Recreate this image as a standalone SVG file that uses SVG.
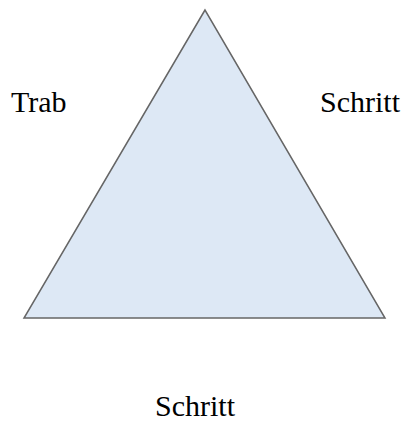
<svg xmlns="http://www.w3.org/2000/svg" width="407" height="421" viewBox="0 0 407 421">
<style>
.lbl{font-family:"Liberation Serif","Times New Roman",serif;font-size:30px;fill:#000}
.tri{fill:#dde8f5;stroke:#666;stroke-width:1.5}
</style>
<rect width="407" height="421" fill="#fff"/>
<g id="triangle"><polygon class="tri" points="205,10 24,318 385,318"/></g>
<g id="labels">
<text class="lbl" x="11" y="112">Trab</text>
<text class="lbl" x="320" y="112">Schritt</text>
<text class="lbl" x="155" y="416">Schritt</text>
</g>
</svg>
